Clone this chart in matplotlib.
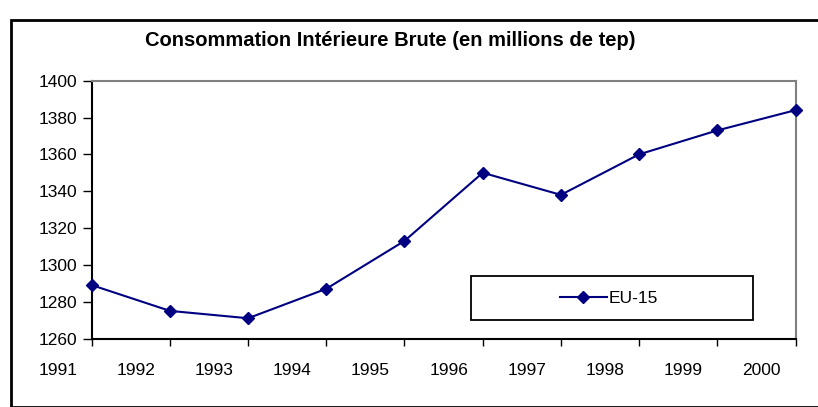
import numpy as np
import matplotlib
matplotlib.use("Agg")
import matplotlib.pyplot as plt
from matplotlib.patches import Rectangle
from matplotlib.transforms import ScaledTranslation

# data
years = ["1991", "1992", "1993", "1994", "1995", "1996", "1997", "1998", "1999", "2000"]
eu15 = [1289, 1275, 1271, 1287, 1313, 1350, 1338, 1360, 1373, 1384]
yticks = [1260, 1280, 1300, 1320, 1340, 1360, 1380, 1400]

plt.rcParams['font.family'] = ['Liberation Sans', 'DejaVu Sans']

fig = plt.figure(figsize=(8.18, 4.07), dpi=100)
W, H = 818, 407

# outer chart border
fig.patches.append(Rectangle((11 / W, 0), 1, 1 - 20 / H, transform=fig.transFigure,
                             fill=False, edgecolor='black', linewidth=2))

left, right, top, bottom = 91.7, 795.5, 80.7, 338.5
ax = fig.add_axes([left / W, 1 - bottom / H, (right - left) / W, (bottom - top) / H])

x = np.arange(len(years))
ax.plot(x, eu15, color='#000080', linewidth=1.5, marker='D', markersize=6,
        label='EU-15', clip_on=False, zorder=3)

ax.set_xticks(x)
ax.set_xticklabels(years)
ax.set_xlim(0, len(years) - 1)
ax.set_ylim(1260, 1400)
ax.set_yticks(yticks)
ax.tick_params(axis='y', direction='out', length=6.5, width=1, pad=4, labelsize=12.5)
ax.tick_params(axis='x', direction='out', length=5, width=1, pad=12.5, labelsize=12.5)

# year labels sit between the ticks (shifted left)
shift = 34 / 100
for lab in ax.get_xticklabels():
    lab.set_transform(lab.get_transform() + ScaledTranslation(-shift, 0, fig.dpi_scale_trans))

for s in ['left', 'bottom']:
    ax.spines[s].set_color('black')
    ax.spines[s].set_linewidth(1.5)
for s in ['top', 'right']:
    ax.spines[s].set_color('#808080')
    ax.spines[s].set_linewidth(1.5)

# legend box
aw, ah = right - left, bottom - top
ax.add_patch(Rectangle(((471 - left) / aw, (bottom - 320) / ah), (753 - 471) / aw, (320 - 276) / ah,
                       transform=ax.transAxes, fill=False, edgecolor='black', linewidth=1.3))
ax.legend(loc='center', bbox_to_anchor=((609 - left) / aw, (bottom - 298) / ah),
          frameon=False, fontsize=12.5, handlelength=2.7, handletextpad=0.1)

fig.text(390 / W, 1 - 40 / H, "Consommation Intérieure Brute (en millions de tep)",
         ha='center', va='center', fontsize=14.5, fontweight='bold')

fig.savefig("out.png", dpi=100)
